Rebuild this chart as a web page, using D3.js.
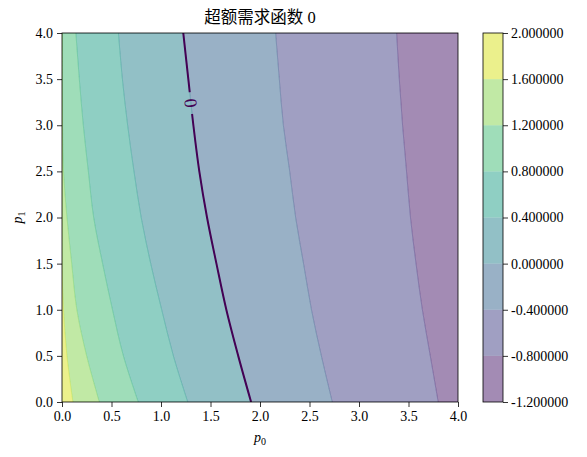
<!DOCTYPE html>
<html>
<head>
<meta charset="utf-8">
<script src="https://cdn.jsdelivr.net/npm/d3@7"></script>
<style>
  body { margin: 0; background: #fff; }
  text { font-family: "Liberation Serif", "DejaVu Serif", serif; }
</style>
</head>
<body>
<div id="chart"></div>
<script>
// contour levels and the p1 rows where the boundaries were read
const levels = [-1.2, -0.8, -0.4, 0.0, 0.4, 0.8, 1.2, 1.6, 2.0];
const p1Rows = [0, 0.5, 1.0, 1.5, 2.0, 2.5, 3.0, 3.5, 4.0];

// p0 position of each level boundary at every p1 row
const bound16  = [0.11, 0.05, 0.015, 0, 0, 0, 0, 0, 0];
const bound12  = [0.377, 0.249, 0.15, 0.098, 0.05, 0.015, 0.005, 0, 0];
const bound08  = [0.77, 0.62, 0.51, 0.41, 0.32, 0.266, 0.215, 0.175, 0.14];
const bound04  = [1.27, 1.125, 1.007, 0.896, 0.80, 0.727, 0.663, 0.61, 0.57];
const bound00  = [1.91, 1.78, 1.66, 1.56, 1.465, 1.387, 1.327, 1.276, 1.225];
const boundN04 = [2.73, 2.62, 2.52, 2.44, 2.36, 2.30, 2.236, 2.195, 2.158];
const boundN08 = [3.80, 3.72, 3.64, 3.576, 3.52, 3.48, 3.44, 3.407, 3.38];

const xTicks = [0.0, 0.5, 1.0, 1.5, 2.0, 2.5, 3.0, 3.5, 4.0];
const yTicks = [0.0, 0.5, 1.0, 1.5, 2.0, 2.5, 3.0, 3.5, 4.0];
const cbTicks = [-1.2, -0.8, -0.4, 0.0, 0.4, 0.8, 1.2, 1.6, 2.0];
const zeroLabelAt = [1.30, 3.24];

const W = 587, H = 457;
const plot = { left: 62, right: 458, top: 33, bottom: 402 };
const cb = { left: 483, right: 503 };

const svg = d3.select('#chart').append('svg')
  .attr('width', W).attr('height', H);

const x = d3.scaleLinear().domain([0, 4]).range([plot.left, plot.right]);
const y = d3.scaleLinear().domain([0, 4]).range([plot.bottom, plot.top]);

// boundary lookup per level value
const boundaries = new Map([
  [-0.8, boundN08], [-0.4, boundN04], [0.0, bound00],
  [0.4, bound04], [0.8, bound08], [1.2, bound12], [1.6, bound16]
]);
const key = v => Math.round(v * 10) / 10;

// matplotlib colours each band by its midpoint, normalised over the level range
const nBands = levels.length - 1;
const bandColor = i => d3.interpolateViridis((i + 0.5) / nBands);

svg.append('clipPath').attr('id', 'clip')
  .append('rect')
  .attr('x', plot.left).attr('y', plot.top)
  .attr('width', plot.right - plot.left).attr('height', plot.bottom - plot.top);

const gPlot = svg.append('g').attr('clip-path', 'url(#clip)');

// FILLED BANDS
for (let i = 0; i < nBands; i++) {
  const lo = boundaries.get(key(levels[i]));     // right edge (lower value)
  const hi = boundaries.get(key(levels[i + 1])); // left edge (higher value)
  const rows = p1Rows.map((p, j) => ({
    p1: p,
    left: hi ? hi[j] : -0.2,
    right: lo ? lo[j] : 4.2
  }));
  const area = d3.area()
    .curve(d3.curveCatmullRom)
    .y(d => y(d.p1))
    .x0(d => x(d.left))
    .x1(d => x(d.right));
  gPlot.append('path')
    .datum(rows)
    .attr('d', area)
    .attr('fill', bandColor(i))
    .attr('fill-opacity', 0.5)
    .attr('stroke', bandColor(i))
    .attr('stroke-opacity', 0.35)
    .attr('stroke-width', 0.6);
}

// ZERO CONTOUR LINE with gap for its label
const labelPos = `translate(${x(zeroLabelAt[0])},${y(zeroLabelAt[1])}) rotate(84)`;
const mask = svg.append('mask').attr('id', 'labelGap');
mask.append('rect').attr('x', 0).attr('y', 0).attr('width', W).attr('height', H).attr('fill', '#fff');
mask.append('rect')
  .attr('x', -11).attr('y', -7).attr('width', 22).attr('height', 14)
  .attr('fill', '#000')
  .attr('transform', labelPos);

const zeroLine = d3.line()
  .curve(d3.curveCatmullRom)
  .x(d => x(d[0]))
  .y(d => y(d[1]));

gPlot.append('path')
  .datum(bound00.map((v, j) => [v, p1Rows[j]]))
  .attr('d', zeroLine)
  .attr('fill', 'none')
  .attr('stroke', d3.interpolateViridis(0))
  .attr('stroke-width', 2)
  .attr('mask', 'url(#labelGap)');

svg.append('text')
  .attr('transform', labelPos)
  .attr('text-anchor', 'middle')
  .attr('dy', '0.34em')
  .attr('font-size', 18)
  .attr('fill', d3.interpolateViridis(0))
  .text('0');

// AXES
const xAxis = d3.axisBottom(x).tickValues(xTicks).tickFormat(d3.format('.1f')).tickSizeOuter(0).tickSize(5).tickPadding(4);
const yAxis = d3.axisLeft(y).tickValues(yTicks).tickFormat(d3.format('.1f')).tickSizeOuter(0).tickSize(5).tickPadding(4);

const gx = svg.append('g').attr('transform', `translate(0,${plot.bottom})`).call(xAxis);
const gy = svg.append('g').attr('transform', `translate(${plot.left},0)`).call(yAxis);
[gx, gy].forEach(g => {
  g.select('.domain').remove();
  g.selectAll('text').attr('font-size', 14).attr('font-family', '"Liberation Serif", serif').attr('fill', '#000');
  g.selectAll('line').attr('stroke', '#000').attr('stroke-width', 0.8);
});

svg.append('rect')
  .attr('x', plot.left).attr('y', plot.top)
  .attr('width', plot.right - plot.left).attr('height', plot.bottom - plot.top)
  .attr('fill', 'none').attr('stroke', '#000').attr('stroke-width', 0.8);

// TITLE and labels
const title = svg.append('text')
  .attr('x', (plot.left + plot.right) / 2).attr('y', 23)
  .attr('text-anchor', 'middle')
  .attr('font-size', 16.5);
title.append('tspan').attr('font-family', '"Noto Sans CJK SC", sans-serif').text('超额需求函数');
title.append('tspan').attr('font-family', '"Liberation Serif", serif').text(' 0');

const xl = svg.append('text')
  .attr('x', (plot.left + plot.right) / 2).attr('y', 442)
  .attr('text-anchor', 'middle')
  .attr('font-family', '"DejaVu Sans", sans-serif')
  .attr('font-size', 14);
xl.append('tspan').attr('font-style', 'italic').text('p');
xl.append('tspan').attr('font-size', 10).attr('dy', 3).text('0');

const yl = svg.append('text')
  .attr('transform', `translate(22,${(plot.top + plot.bottom) / 2}) rotate(-90)`)
  .attr('text-anchor', 'middle')
  .attr('font-family', '"DejaVu Sans", sans-serif')
  .attr('font-size', 14);
yl.append('tspan').attr('font-style', 'italic').text('p');
yl.append('tspan').attr('font-size', 10).attr('dy', 3).text('1');

// COLORBAR
const yc = d3.scaleLinear().domain([levels[0], levels[levels.length - 1]]).range([plot.bottom, plot.top]);
svg.append('g').selectAll('rect')
  .data(d3.range(nBands))
  .enter().append('rect')
  .attr('x', cb.left)
  .attr('width', cb.right - cb.left)
  .attr('y', i => yc(levels[i + 1]))
  .attr('height', i => yc(levels[i]) - yc(levels[i + 1]))
  .attr('fill', i => bandColor(i))
  .attr('fill-opacity', 0.5);

const cAxis = d3.axisRight(yc).tickValues(cbTicks).tickFormat(d3.format('.6f')).tickSizeOuter(0).tickSize(5).tickPadding(3);
const gc = svg.append('g').attr('transform', `translate(${cb.right},0)`).call(cAxis);
gc.select('.domain').remove();
gc.selectAll('text').attr('font-size', 14).attr('font-family', '"Liberation Serif", serif').attr('fill', '#000')
  .text(d => d3.format('.6f')(d).replace('−', '-'));
gc.selectAll('line').attr('stroke', '#000').attr('stroke-width', 0.8);

svg.append('rect')
  .attr('x', cb.left).attr('y', plot.top)
  .attr('width', cb.right - cb.left).attr('height', plot.bottom - plot.top)
  .attr('fill', 'none').attr('stroke', '#000').attr('stroke-width', 0.8);
</script>
</body>
</html>
